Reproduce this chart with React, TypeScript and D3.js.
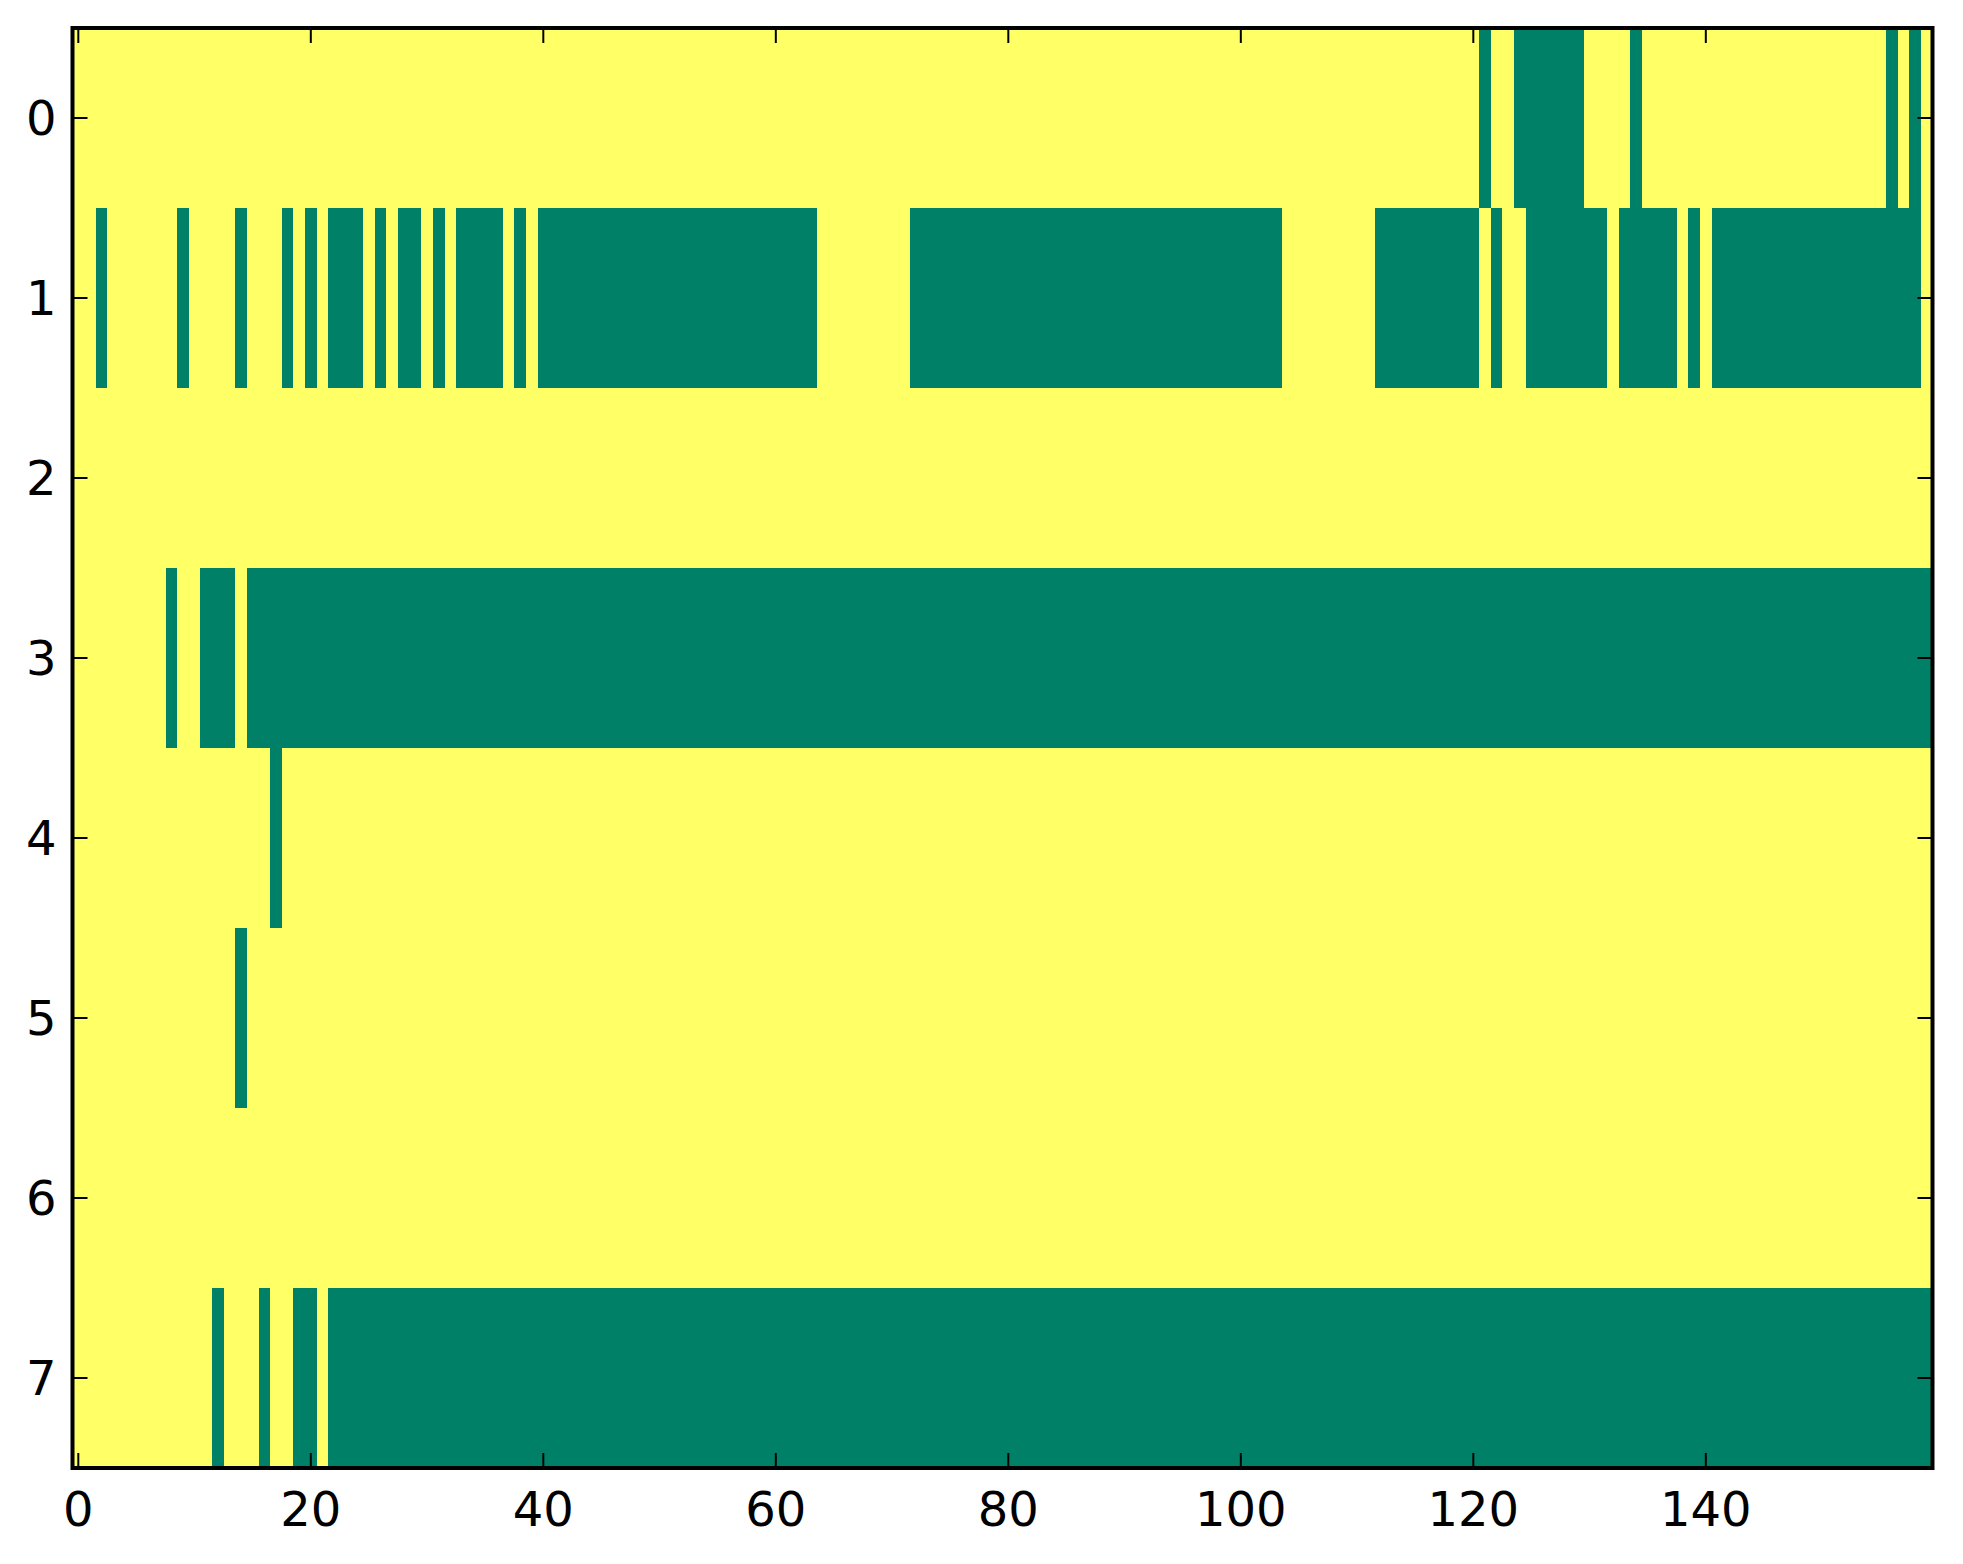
import * as d3 from 'd3';
import { useMemo } from 'react';

// 8 rows x 160 columns, binary image (summer colormap: 0 = green, 1 = yellow)
const nRows = 8;
const nCols = 160;

// columns holding 0 in each row, as inclusive [start, end] runs
const row0Zeros: [number, number][] = [[121, 121], [124, 129], [134, 134], [156, 156], [158, 158]];
const row1Zeros: [number, number][] = [
  [2, 2], [9, 9], [14, 14], [18, 18], [20, 20], [22, 24], [26, 26], [28, 29],
  [31, 31], [33, 36], [38, 38], [40, 63], [72, 103], [112, 120], [122, 122],
  [125, 131], [133, 137], [139, 139], [141, 158],
];
const row2Zeros: [number, number][] = [];
const row3Zeros: [number, number][] = [[8, 8], [11, 13], [15, 159]];
const row4Zeros: [number, number][] = [[17, 17]];
const row5Zeros: [number, number][] = [[14, 14]];
const row6Zeros: [number, number][] = [];
const row7Zeros: [number, number][] = [[12, 12], [16, 16], [19, 20], [22, 159]];

const zeroRuns = [row0Zeros, row1Zeros, row2Zeros, row3Zeros, row4Zeros, row5Zeros, row6Zeros, row7Zeros];

const xTicks = [0, 20, 40, 60, 80, 100, 120, 140];
const yTicks = [0, 1, 2, 3, 4, 5, 6, 7];

const WIDTH = 1963;
const HEIGHT = 1564;
const plot = { left: 72.5, right: 1932.5, top: 28, bottom: 1468 };

export default function App() {
  const xScale = useMemo(
    () => d3.scaleLinear().domain([-0.5, nCols - 0.5]).range([plot.left, plot.right]),
    []
  );
  const yScale = useMemo(
    () => d3.scaleLinear().domain([-0.5, nRows - 0.5]).range([plot.top, plot.bottom]),
    []
  );
  const color = d3.scaleLinear<string>().domain([0, 1]).range(['#008066', '#ffff66']);

  // expand the runs into a full value grid
  const cells = useMemo(() => {
    const out: { r: number; c: number; v: number }[] = [];
    zeroRuns.forEach((runs, r) => {
      for (let c = 0; c < nCols; c++) {
        const isZero = runs.some(([a, b]) => c >= a && c <= b);
        out.push({ r, c, v: isZero ? 0 : 1 });
      }
    });
    return out;
  }, []);

  const font = { fontFamily: 'DejaVu Sans', fontSize: 48 };
  const tickLen = 15;

  return (
    <div style={{ position: 'absolute', left: 0, top: 0 }}>
      <svg width={WIDTH} height={HEIGHT} style={{ display: 'block', background: '#fff' }}>
        <g shapeRendering='crispEdges'>
          {cells.map((d) => (
            <rect
              key={`${d.r}-${d.c}`}
              x={xScale(d.c - 0.5)}
              y={yScale(d.r - 0.5)}
              width={xScale(d.c + 0.5) - xScale(d.c - 0.5) + 0.6}
              height={yScale(d.r + 0.5) - yScale(d.r - 0.5) + 0.6}
              fill={color(d.v)}
            />
          ))}
        </g>
        {/* ticks, inside on all four sides */}
        {xTicks.map((t) => (
          <g key={`x${t}`}>
            <line x1={xScale(t)} x2={xScale(t)} y1={plot.bottom} y2={plot.bottom - tickLen} stroke='#000' strokeWidth={2} />
            <line x1={xScale(t)} x2={xScale(t)} y1={plot.top} y2={plot.top + tickLen} stroke='#000' strokeWidth={2} />
            <text x={xScale(t)} y={plot.bottom + 58} textAnchor='middle' {...font}>
              {t}
            </text>
          </g>
        ))}
        {yTicks.map((t) => (
          <g key={`y${t}`}>
            <line x1={plot.left} x2={plot.left + tickLen} y1={yScale(t)} y2={yScale(t)} stroke='#000' strokeWidth={2} />
            <line x1={plot.right} x2={plot.right - tickLen} y1={yScale(t)} y2={yScale(t)} stroke='#000' strokeWidth={2} />
            <text x={plot.left - 16} y={yScale(t)} dy='0.36em' textAnchor='end' {...font}>
              {t}
            </text>
          </g>
        ))}
        <rect
          x={plot.left}
          y={plot.top}
          width={plot.right - plot.left}
          height={plot.bottom - plot.top}
          fill='none'
          stroke='#000'
          strokeWidth={4}
        />
      </svg>
    </div>
  );
}
